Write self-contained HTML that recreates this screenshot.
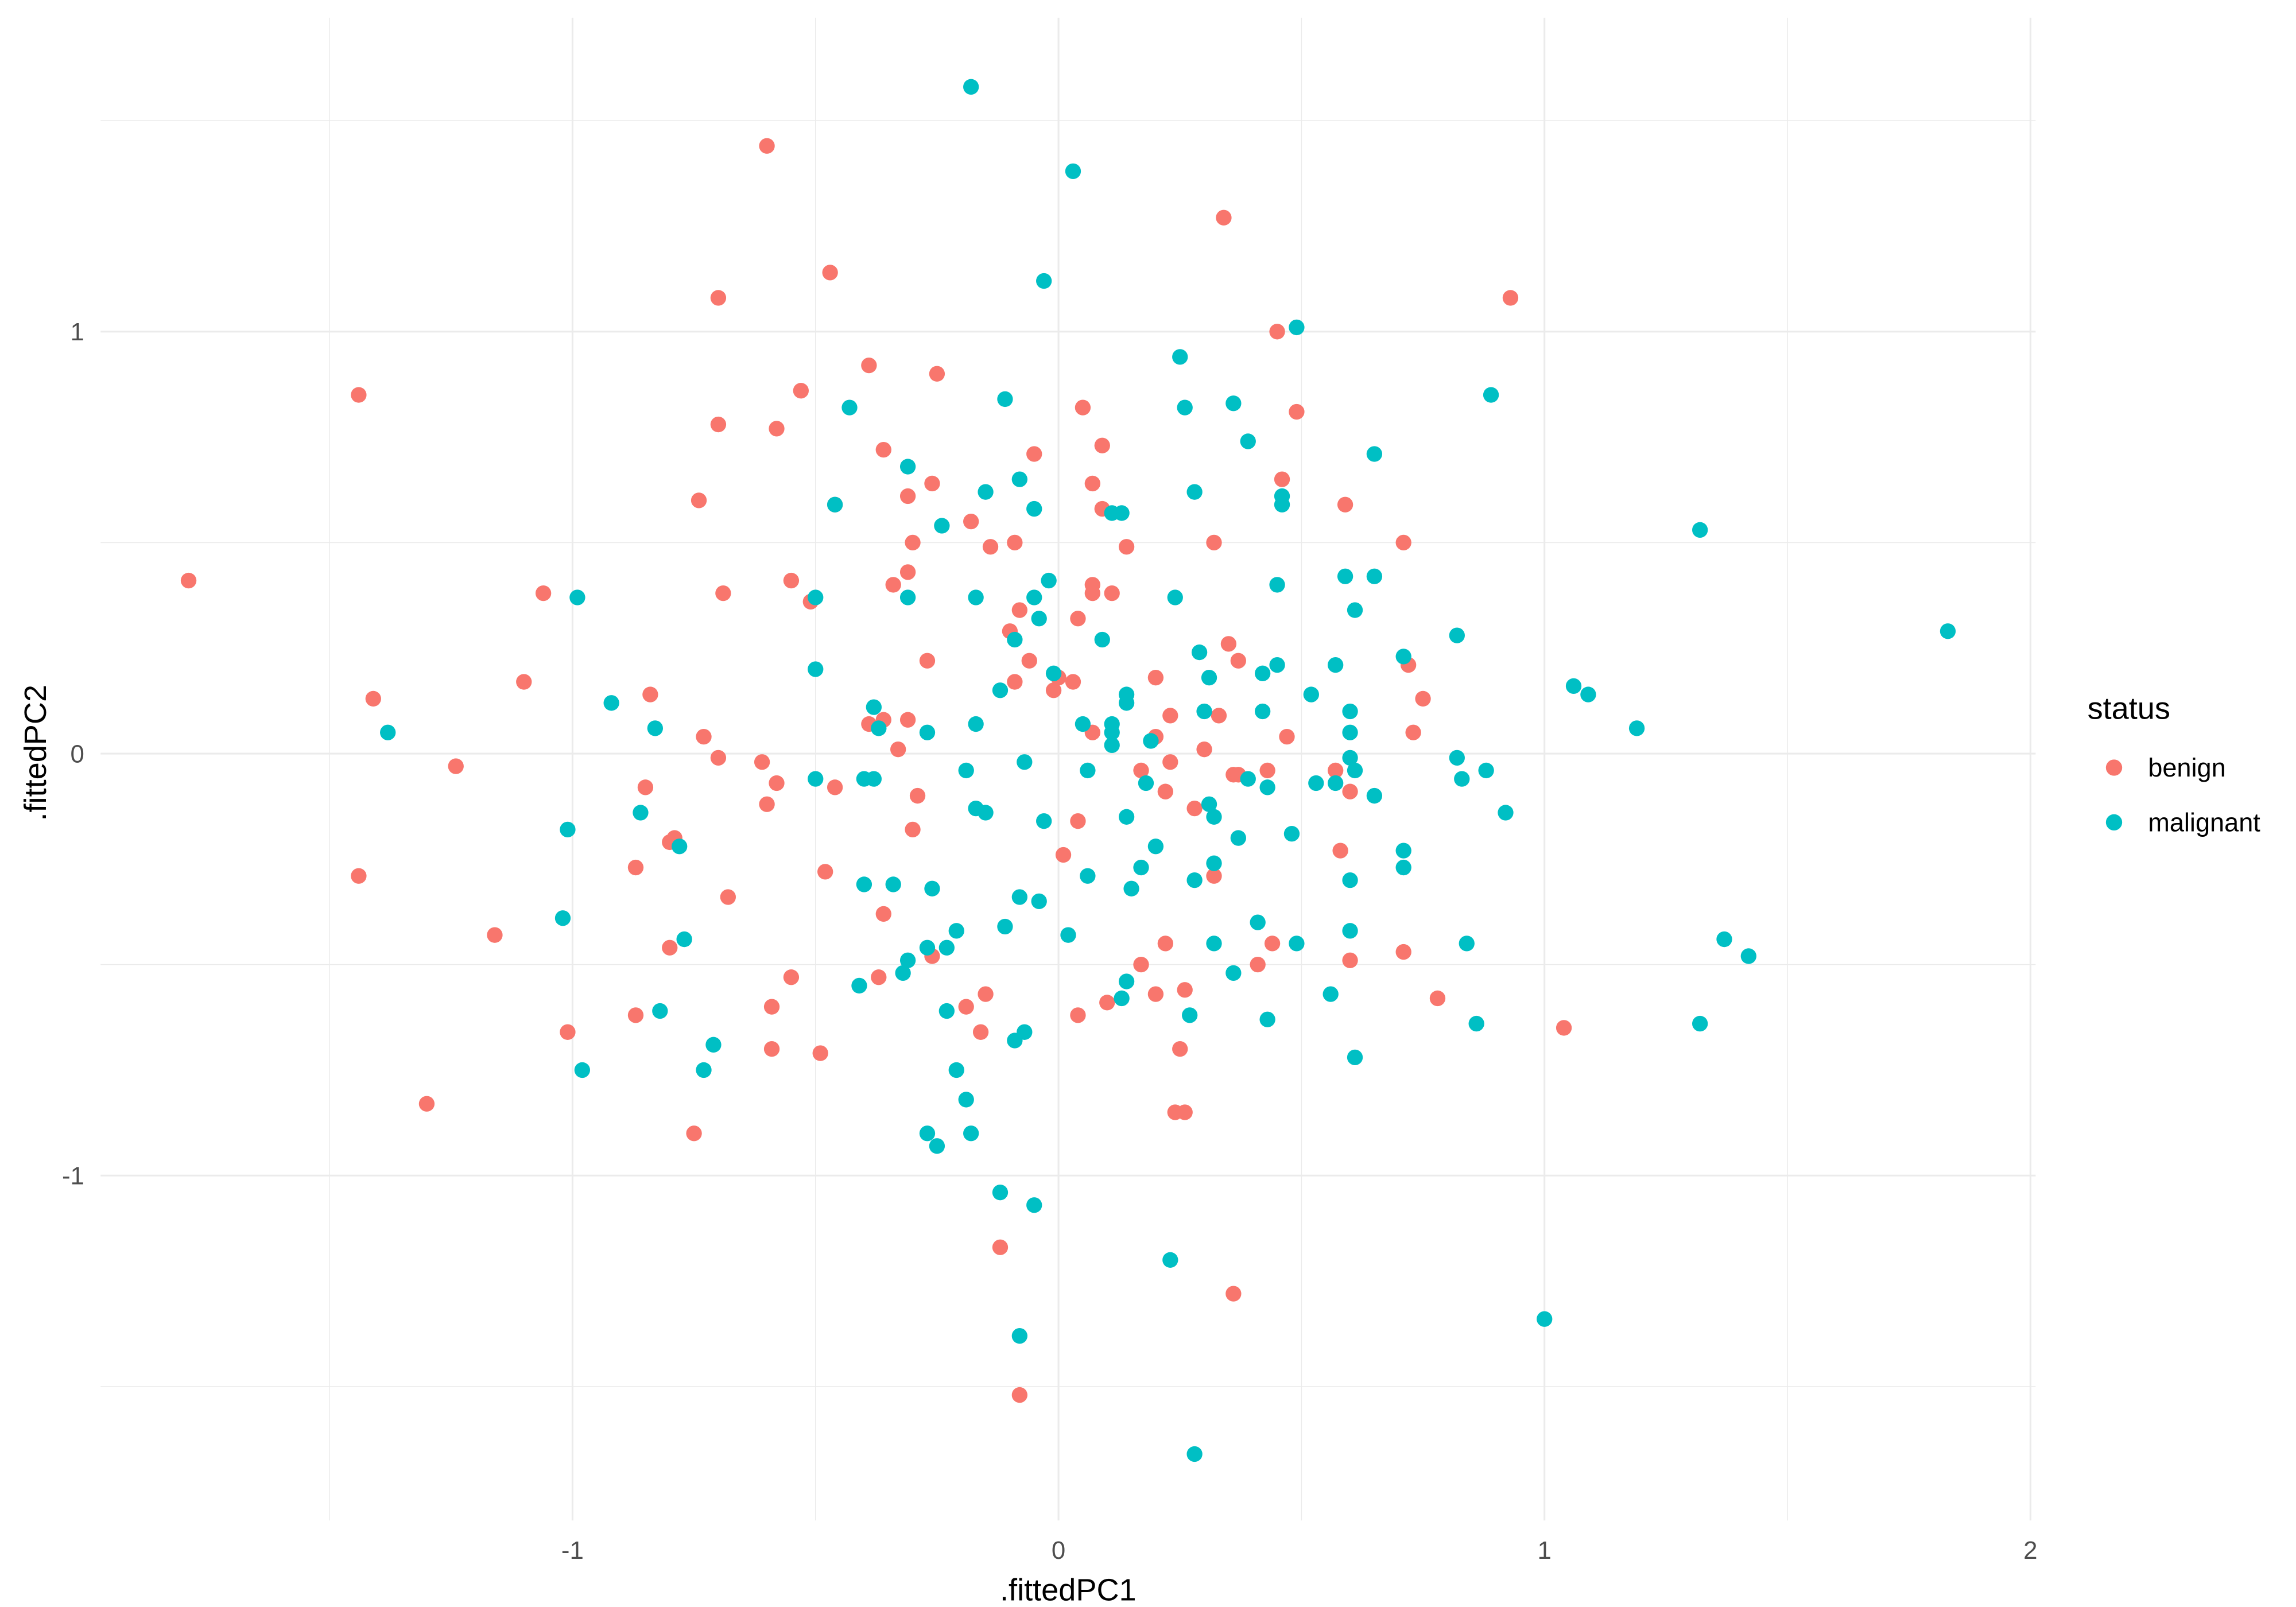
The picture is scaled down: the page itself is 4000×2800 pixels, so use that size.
<!DOCTYPE html>
<html><head><meta charset="utf-8"><style>
html,body{margin:0;padding:0;background:#fff;}
svg{display:block;}
text{font-family:"Liberation Sans",Arial,sans-serif;}
</style></head><body>
<svg id="chart" width="4000" height="2800" viewBox="0 0 1552 1086.5" preserveAspectRatio="none" xmlns="http://www.w3.org/2000/svg">
<rect width="1552" height="1086.5" fill="#fff"/>
<g id="grid"></g>
<g id="points"></g>
<g id="axes"></g>
<text x="722" y="1082" font-size="21" text-anchor="middle" fill="#000">.fittedPC1</text>
<text transform="translate(31,509) rotate(-90)" font-size="21" text-anchor="middle" fill="#000">.fittedPC2</text>
<g>
<text x="1411" y="486" font-size="21" fill="#000">status</text>
<circle cx="1429" cy="519" r="5.5" fill="#F8766D"/>
<text x="1452" y="525" font-size="17.5" fill="#000">benign</text>
<circle cx="1429" cy="556" r="5.5" fill="#00BFC4"/>
<text x="1452" y="562" font-size="17.5" fill="#000">malignant</text>
</g>
</svg>
<script>
const xTicks=[-1,0,1,2];
const yTicks=[-1,0,1];
const xMinor=[-1.5,-0.5,0.5,1.5];
const yMinor=[-1.5,-0.5,0.5,1.5];
const benignX=[-0.60,-0.47,-0.70,0.34,0.93,-1.44,-1.79,-0.39,-0.25,-0.53,-0.70,-0.58,-0.36,-0.74,-0.46,-0.26,-0.31,-1.06,-0.69,-1.10,-1.41,-1.24,-0.55,-0.51,-0.34,-0.31,-0.30,0.45,0.49,0.05,0.09,-0.05,0.07,0.09,0.46,0.59,0.71,0.32,0.14,-0.18,-0.14,-0.09,0.07,0.11,0.07,-0.08,-0.10,-0.27,-0.06,0.04,0.00,0.03,-0.01,-0.09,0.20,0.35,0.37,0.72,0.75,0.73,0.47,0.33,0.23,0.07,0.20,0.30,0.23,0.17,0.22,0.28,0.43,-0.39,-0.36,-0.31,-0.33,-0.29,-0.30,-0.61,-0.70,-0.73,-0.84,-0.46,-0.58,-0.60,-0.85,-0.79,-0.80,-0.87,-0.68,-0.48,-0.36,-0.80,-1.16,-1.44,-0.55,-0.59,-0.37,-0.26,-0.87,-1.01,-1.30,-0.59,-0.49,-0.75,-0.19,-0.15,-0.16,0.01,0.04,0.04,0.10,0.17,0.20,0.22,0.26,0.25,0.24,0.26,0.36,-0.12,-0.08,0.44,0.41,0.36,0.71,0.78,1.04,0.58,0.60,0.60,0.57,0.32,0.37];
const benignY=[1.44,1.14,1.08,1.27,1.08,0.85,0.41,0.92,0.90,0.86,0.78,0.77,0.72,0.60,0.59,0.64,0.61,0.38,0.38,0.17,0.13,-0.03,0.41,0.36,0.40,0.43,0.50,1.00,0.81,0.82,0.73,0.71,0.64,0.58,0.65,0.59,0.50,0.50,0.49,0.55,0.49,0.50,0.40,0.38,0.38,0.34,0.29,0.22,0.22,0.32,0.18,0.17,0.15,0.17,0.18,0.26,0.22,0.21,0.13,0.05,0.04,0.09,0.09,0.05,0.04,0.01,-0.02,-0.04,-0.09,-0.13,-0.04,0.07,0.08,0.08,0.01,-0.10,-0.18,-0.02,-0.01,0.04,0.14,-0.08,-0.07,-0.12,-0.08,-0.20,-0.21,-0.27,-0.34,-0.28,-0.38,-0.46,-0.43,-0.29,-0.53,-0.60,-0.53,-0.48,-0.62,-0.66,-0.83,-0.70,-0.71,-0.90,-0.60,-0.57,-0.66,-0.24,-0.16,-0.62,-0.59,-0.50,-0.57,-0.45,-0.56,-0.70,-0.85,-0.85,-1.28,-1.17,-1.52,-0.45,-0.50,-0.05,-0.47,-0.58,-0.65,-0.23,-0.49,-0.09,-0.04,-0.29,-0.05];
const malignantX=[-0.18,0.03,-0.03,0.49,0.25,0.89,-0.43,-0.11,0.26,0.36,0.39,0.65,-0.31,-0.15,-0.08,-0.05,0.13,0.11,0.28,0.46,0.46,-0.46,-0.24,1.32,1.83,0.59,0.65,0.45,-0.02,-0.05,-0.31,-0.50,-0.17,0.24,0.61,-0.99,-0.04,-0.09,0.09,0.29,0.82,0.71,0.45,0.42,0.57,0.31,-0.50,-0.01,-0.12,0.14,0.14,0.52,1.06,1.09,1.19,-0.92,-1.38,-0.83,-0.38,-0.37,-0.27,-0.17,0.05,0.11,0.11,0.11,0.19,0.30,0.42,0.60,0.60,0.60,0.61,0.65,0.82,0.83,0.88,0.92,0.53,0.57,0.39,0.43,0.48,0.37,0.31,0.32,0.18,0.06,0.14,0.20,0.17,0.32,0.28,0.15,0.06,-0.03,-0.07,-0.19,-0.17,-0.15,-0.40,-0.38,-0.50,-1.01,-0.86,-0.78,-0.40,-0.34,-0.26,-0.08,-0.04,-1.02,-0.77,-0.21,-0.11,0.02,-0.27,-0.23,-0.31,-0.32,-0.41,-0.82,-0.71,-0.73,-0.98,-0.23,-0.21,-0.19,-0.27,-0.25,-0.18,-0.09,-0.07,-0.12,-0.05,-0.08,0.23,0.28,1.00,0.14,0.13,0.27,0.32,0.36,0.41,0.43,0.49,0.60,0.56,0.60,0.71,0.71,0.84,0.86,0.61,1.32,1.37,1.42];
const malignantY=[1.58,1.38,1.12,1.01,0.94,0.85,0.82,0.84,0.82,0.83,0.74,0.71,0.68,0.62,0.65,0.58,0.57,0.57,0.62,0.59,0.61,0.59,0.54,0.53,0.29,0.42,0.42,0.40,0.41,0.37,0.37,0.37,0.37,0.37,0.34,0.37,0.32,0.27,0.27,0.24,0.28,0.23,0.21,0.19,0.21,0.18,0.20,0.19,0.15,0.14,0.12,0.14,0.16,0.14,0.06,0.12,0.05,0.06,0.11,0.06,0.05,0.07,0.07,0.07,0.05,0.02,0.03,0.10,0.10,0.10,0.05,-0.01,-0.04,-0.10,-0.01,-0.06,-0.04,-0.14,-0.07,-0.07,-0.06,-0.08,-0.19,-0.20,-0.12,-0.15,-0.07,-0.04,-0.15,-0.22,-0.27,-0.26,-0.30,-0.32,-0.29,-0.16,-0.02,-0.04,-0.13,-0.14,-0.06,-0.06,-0.06,-0.18,-0.14,-0.22,-0.31,-0.31,-0.32,-0.34,-0.35,-0.39,-0.44,-0.42,-0.41,-0.43,-0.46,-0.46,-0.49,-0.52,-0.55,-0.61,-0.69,-0.75,-0.75,-0.61,-0.75,-0.82,-0.90,-0.93,-0.90,-0.68,-0.66,-1.04,-1.07,-1.38,-1.20,-1.66,-1.34,-0.54,-0.58,-0.62,-0.45,-0.52,-0.40,-0.63,-0.45,-0.42,-0.57,-0.30,-0.23,-0.27,-0.45,-0.64,-0.72,-0.64,-0.44,-0.48];

const NS='http://www.w3.org/2000/svg';
const sx=v=>715.5+328.5*v;
const sy=v=>509.5-285.3*v;
const X0=68,X1=1376,Y0=12,Y1=1028;
const grid=document.getElementById('grid');
const axes=document.getElementById('axes');
const pts=document.getElementById('points');
function line(x1,y1,x2,y2,w){const l=document.createElementNS(NS,'line');l.setAttribute('x1',x1);l.setAttribute('y1',y1);l.setAttribute('x2',x2);l.setAttribute('y2',y2);l.setAttribute('stroke','#ebebeb');l.setAttribute('stroke-width',w);return l;}
xMinor.forEach(v=>{const l=line(sx(v),Y0,sx(v),Y1,0.6);


grid.appendChild(l);});
yMinor.forEach(v=>{const l=line(X0,sy(v),X1,sy(v),0.6);


grid.appendChild(l);});
xTicks.forEach(v=>{const l=line(sx(v),Y0,sx(v),Y1,1.2);


grid.appendChild(l);
const t=document.createElementNS(NS,'text');t.setAttribute('x',sx(v));t.setAttribute('y',1054);t.setAttribute('font-size','17');t.setAttribute('fill','#4d4d4d');t.setAttribute('text-anchor','middle');t.textContent=v;


axes.appendChild(t);});
yTicks.forEach(v=>{const l=line(X0,sy(v),X1,sy(v),1.2);


grid.appendChild(l);
const t=document.createElementNS(NS,'text');t.setAttribute('x',57);t.setAttribute('y',sy(v)+6);t.setAttribute('font-size','17');t.setAttribute('fill','#4d4d4d');t.setAttribute('text-anchor','end');t.textContent=v;


axes.appendChild(t);});
function drawSeries(xs,ys,color,name){for(let i=0;i<xs.length;i++){const c=document.createElementNS(NS,'circle');c.setAttribute('cx',sx(xs[i]));c.setAttribute('cy',sy(ys[i]));c.setAttribute('r',5.3);c.setAttribute('fill',color);


pts.appendChild(c);}}
drawSeries(benignX,benignY,'#F8766D','benign-point');
drawSeries(malignantX,malignantY,'#00BFC4','malignant-point');
</script>
</body></html>
